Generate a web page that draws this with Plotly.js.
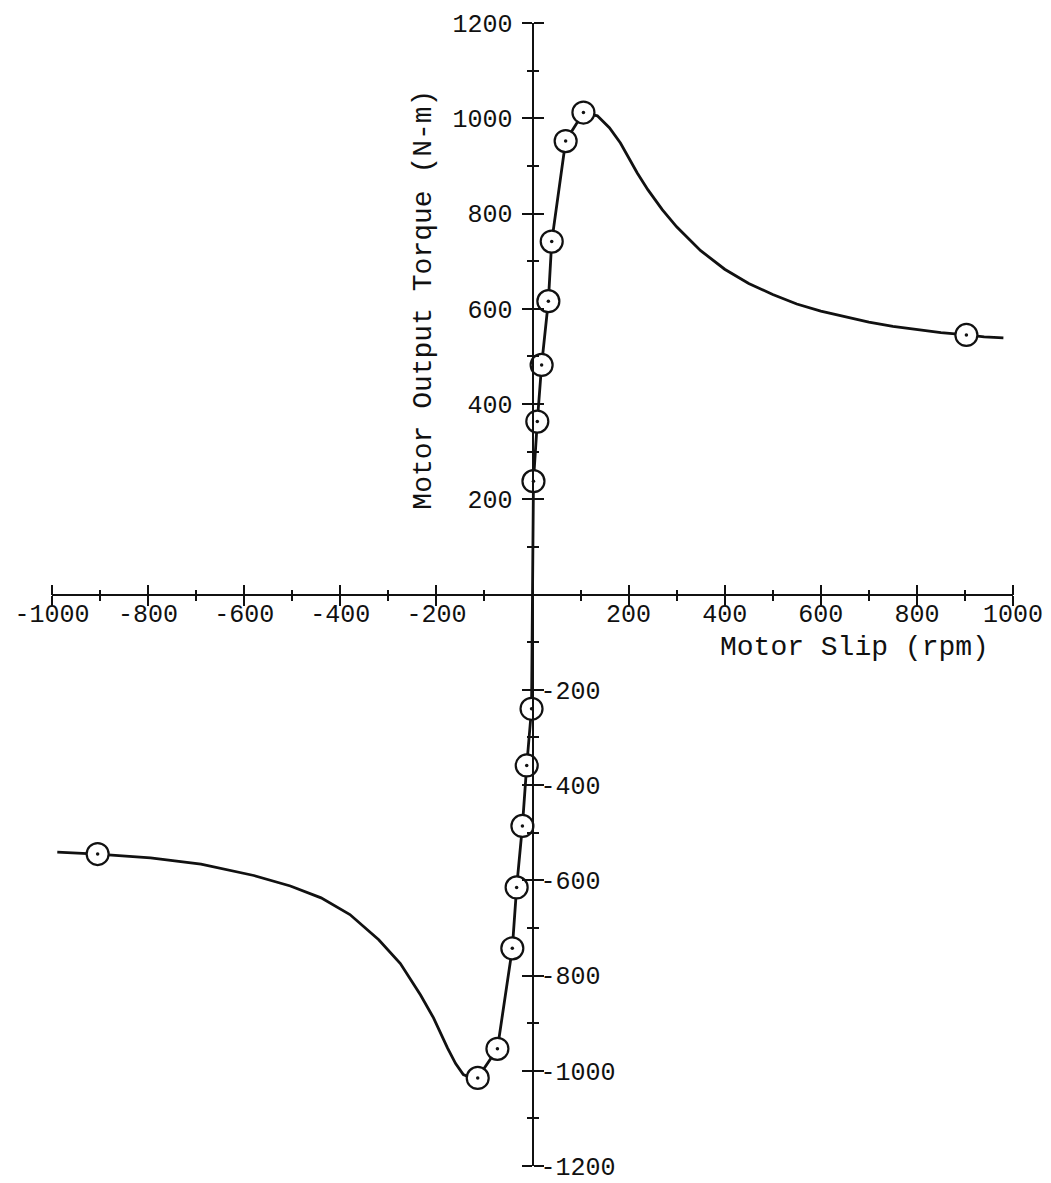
<!DOCTYPE html>
<html>
<head>
<meta charset="utf-8">
<script src="https://cdn.plot.ly/plotly-3.0.1.min.js"></script>
<style>html,body{margin:0;padding:0;background:#fff;}</style>
</head>
<body>
<div id="chart" style="width:1051px;height:1183px;"></div>
<script>
// Positive-slip branch: measured points (circles)
const posMarkSlip   = [2, 10, 19, 33, 40, 69, 106, 903];
const posMarkTorque = [238, 363, 482, 616, 741, 952, 1012, 545];
// Positive-slip branch: drawn curve
const posCurveSlip   = [0, 2, 10, 19, 33, 40, 69, 106, 135, 160, 183, 200, 218, 240, 270, 300, 350, 400, 450, 500, 550, 600, 650, 700, 750, 800, 850, 903, 940, 980];
const posCurveTorque = [0, 238, 363, 482, 616, 741, 952, 1012, 1005, 980, 948, 918, 885, 850, 808, 772, 722, 683, 653, 630, 610, 595, 583, 572, 563, 556, 550, 545, 541, 539];

// Negative-slip branch: measured points (circles)
const negMarkSlip   = [-2, -12, -21, -33, -42, -73, -114, -905];
const negMarkTorque = [-240, -359, -486, -615, -743, -954, -1015, -545];
// Negative-slip branch: drawn curve
const negCurveSlip   = [0, -2, -12, -21, -33, -42, -73, -114, -130, -144, -160, -177, -206, -233, -275, -320, -380, -440, -504, -580, -690, -795, -905, -989];
const negCurveTorque = [0, -240, -359, -486, -615, -743, -954, -1015, -1014, -1008, -985, -952, -889, -841, -775, -725, -672, -637, -612, -590, -566, -553, -545, -541];

// Tick labels
const xTickVals = [-1000, -800, -600, -400, -200, 200, 400, 600, 800, 1000];
const xTickText = ['-1000', '-800', '-600', '-400', '-200', '200', '400', '600', '800', '1000'];
const yTickVals = [-1200, -1000, -800, -600, -400, -200, 200, 400, 600, 800, 1000, 1200];
const yLeftText  = ['', '', '', '', '', '', '200', '400', '600', '800', '1000', '1200'];
const yRightText = ['-1200', '-1000', '-800', '-600', '-400', '-200', '', '', '', '', '', ''];

const xTitle = 'Motor Slip (rpm)';
const yTitle = 'Motor Output Torque (N-m)';

const FONT = 'Liberation Mono, Courier New, monospace';
const INK = '#111';

function curve(x, y) {
  return {x: x, y: y, type: 'scatter', mode: 'lines', line: {color: INK, width: 2.8},
          hoverinfo: 'skip', cliponaxis: false};
}
function circles(x, y) {
  return {x: x, y: y, type: 'scatter', mode: 'markers',
          marker: {symbol: 'circle', size: 22, color: '#fff', line: {color: INK, width: 2.2}},
          cliponaxis: false};
}
function dots(x, y) {
  return {x: x, y: y, type: 'scatter', mode: 'markers',
          marker: {symbol: 'circle', size: 3.5, color: INK}, hoverinfo: 'skip', cliponaxis: false};
}

const data = [
  curve(posCurveSlip, posCurveTorque),
  curve(negCurveSlip, negCurveTorque),
  circles(posMarkSlip, posMarkTorque),
  circles(negMarkSlip, negMarkTorque),
  dots(posMarkSlip, posMarkTorque),
  dots(negMarkSlip, negMarkTorque),
  {x: [], y: [], xaxis: 'x2', yaxis: 'y2', type: 'scatter', mode: 'markers', hoverinfo: 'skip'}
];

const tickFont = {family: FONT, size: 25, color: INK};
const minorX = {dtick: 100, tick0: 0, ticks: 'outside', ticklen: 5, tickwidth: 2, tickcolor: INK, showgrid: false};
const minorY = {dtick: 100, tick0: 0, ticks: 'outside', ticklen: 5, tickwidth: 2, tickcolor: INK, showgrid: false};

const layout = {
  width: 1051, height: 1183,
  margin: {l: 52, r: 38, t: 23, b: 17},
  paper_bgcolor: '#fff', plot_bgcolor: '#fff',
  showlegend: false,
  font: {family: FONT, color: INK},
  xaxis: {
    range: [-1000, 1000], anchor: 'free', position: 0.5, side: 'bottom',
    showline: true, linewidth: 2.5, linecolor: INK,
    ticks: 'outside', ticklen: 10, tickwidth: 2, tickcolor: INK,
    tickmode: 'array', tickvals: xTickVals, ticktext: xTickText,
    tickfont: tickFont, ticklabelstandoff: -14, ticklabeloverflow: 'allow',
    showgrid: false, zeroline: false, minor: minorX
  },
  xaxis2: {
    range: [-1000, 1000], overlaying: 'x', anchor: 'free', position: 0.5, side: 'top',
    showline: false, ticks: 'outside', ticklen: 10, tickwidth: 2, tickcolor: INK,
    tickmode: 'array', tickvals: xTickVals, showticklabels: false,
    showgrid: false, zeroline: false, minor: minorX
  },
  yaxis: {
    range: [-1200, 1200], anchor: 'free', position: 0.5, side: 'left',
    showline: true, linewidth: 2.5, linecolor: INK,
    ticks: 'outside', ticklen: 10, tickwidth: 2, tickcolor: INK,
    tickmode: 'array', tickvals: yTickVals, ticktext: yLeftText,
    tickfont: tickFont, ticklabelstandoff: 4, ticklabeloverflow: 'allow',
    showgrid: false, zeroline: false, minor: minorY
  },
  yaxis2: {
    range: [-1200, 1200], overlaying: 'y', anchor: 'free', position: 0.5, side: 'right',
    showline: false, ticks: 'outside', ticklen: 10, tickwidth: 2, tickcolor: INK,
    tickmode: 'array', tickvals: yTickVals, ticktext: yRightText,
    tickfont: tickFont, ticklabelstandoff: -8, ticklabeloverflow: 'allow',
    showgrid: false, zeroline: false, minor: minorY
  },
  annotations: [
    {text: xTitle, xref: 'x', yref: 'y', x: 670, y: -111, showarrow: false,
     font: {family: FONT, size: 28, color: INK}},
    {text: yTitle, xref: 'x', yref: 'y', x: -227, y: 620, showarrow: false, textangle: -90,
     font: {family: FONT, size: 28, color: INK}}
  ]
};

Plotly.newPlot('chart', data, layout, {displayModeBar: false, staticPlot: true});
</script>
</body>
</html>
